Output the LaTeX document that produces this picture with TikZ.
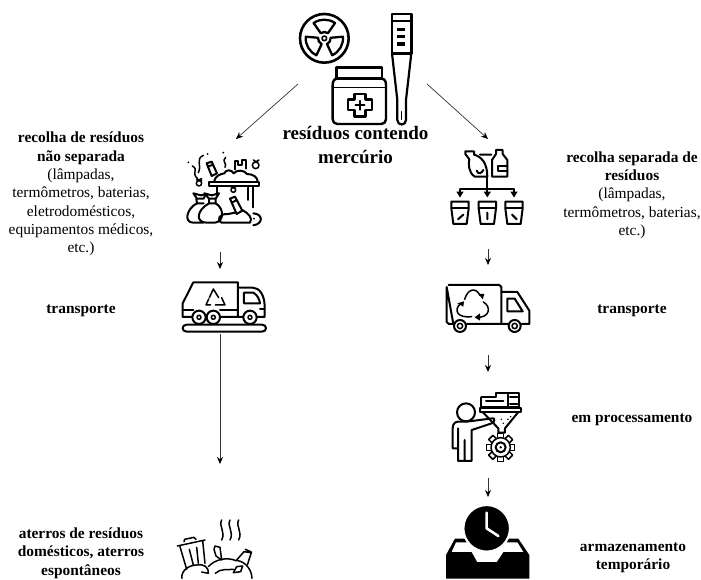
\documentclass[tikz,border=0pt]{standalone}
\usepackage{fontspec}
\setmainfont{Liberation Serif}
\usetikzlibrary{arrows.meta}
\tikzset{
  zm/.style 2 args={shift={(#1pt,-#2pt)},x=0.3333pt,y=-0.3333pt},
  ico/.style={draw=black,line width=2pt,line join=round,line cap=round,fill=none},
  thin ico/.style={draw=black,line width=1.5pt,line join=round,line cap=round,fill=none},
  bigarrow/.style={draw=black!80,line width=0.7pt,-{Stealth[length=7pt,width=6pt,black]}},
  lab/.style={align=center,font=\fontsize{15.4pt}{18.3pt}\selectfont,inner sep=0pt},
  blab/.style={align=center,font=\fontsize{15.4pt}{18.5pt}\selectfont\bfseries,inner sep=0pt},
  titlelab/.style={align=center,font=\fontsize{19pt}{23.5pt}\selectfont\bfseries,inner sep=0pt},
}
\begin{document}
\begin{tikzpicture}[x=1pt,y=-1pt]
\useasboundingbox (0,0) rectangle (701,580);
\fill[white] (0,0) rectangle (701,580);
% radiation symbol
\begin{scope}[zm={280}{0}]
  \draw[ico,line width=2.6pt] (133,115) circle (73);
  \begin{scope}[shift={(133,115)}]
    \foreach \a in {270,30,150}{
      \draw[ico,line width=2.3pt] (\a-35:56) arc (\a-35:\a+35:56) -- (\a+35:19) arc (\a+35:\a-35:19) -- cycle;
    }
    \draw[ico,line width=1.6pt] (0,0) circle (7);
  \end{scope}
  % thermometer
  \draw[ico,line width=2.4pt] (336,42) rectangle (394,160);
  \draw[ico,line width=1.8pt] (336,62) -- (394,62);
  \foreach \yy in {88,110,132}{\fill (352,\yy-5) rectangle (376,\yy+5);}
  \draw[ico,line width=2.2pt] (336,160) -- (352,300) -- (352,360) .. controls (352,378) and (378,378) .. (378,360) -- (378,300) -- (394,160);
  \draw[ico,line width=1.2pt] (365,335) -- (365,358);
  % jar
  \draw[ico,line width=2.4pt] (170,202) rectangle (306,236);
  \draw[ico,line width=2.4pt] (172,236) -- (304,236) .. controls (315,236) and (318,245) .. (318,255) -- (318,358) .. controls (318,366) and (312,372) .. (304,372) -- (172,372) .. controls (164,372) and (158,366) .. (158,358) -- (158,255) .. controls (158,245) and (162,236) .. (172,236) -- cycle;
  \draw[ico,line width=1.5pt] (158,262) -- (318,262);
  \draw[ico,line width=2.4pt] (224,282) -- (256,282) -- (256,298) -- (276,298) -- (276,330) -- (256,330) -- (256,350) -- (224,350) -- (224,330) -- (204,330) -- (204,298) -- (224,298) -- cycle;
  \draw[ico,line width=1.4pt] (240,302) -- (240,330) (226,315) -- (254,315);
\end{scope}
\node[titlelab] (title) at (355.5,145) {resíduos contendo\\mercúrio};
% left waste icon
\begin{scope}[zm={185}{150}]
  \fill (10,37) circle (3) (68,12) circle (3) (115,8) circle (3);
  \draw[thin ico] (22,48) .. controls (42,58) and (18,70) .. (38,86);
  \draw[thin ico] (55,16) .. controls (30,28) and (52,45) .. (40,68);
  \draw[thin ico] (122,22) .. controls (108,34) and (128,40) .. (120,52);
  \draw[thin ico] (42,100) circle (8) (35,88) -- (50,92) (50,86) -- (36,92);
  \draw[ico] (65,40) -- (80,35) -- (96,70) -- (80,78) -- cycle (68,50) -- (84,44);
  \draw[ico] (150,58) -- (150,32) -- (160,32) -- (160,46) -- (170,46) -- (170,30) -- (182,30) -- (182,56);
  \draw[thin ico] (212,46) circle (10) (205,30) -- (218,38) (222,30) -- (208,38);
  \draw[ico] (88,92) .. controls (92,78) and (105,72) .. (118,70) .. controls (122,58) and (140,58) .. (146,70) .. controls (155,58) and (178,60) .. (186,72) .. controls (205,72) and (218,82) .. (218,95);
  \draw[ico] (72,97) -- (222,97) -- (222,109) -- (72,109) -- cycle;
  \draw[thin ico] (145,120) circle (7) (136,110) -- (154,110);
  \draw[ico] (190,110) -- (190,150) (205,110) -- (205,172) (95,110) -- (95,135);
  % two bags
  \draw[ico] (25,130) -- (36,146) -- (56,146) -- (62,132) -- (48,136) -- (25,130);
  \draw[ico] (58,130) -- (72,146) -- (92,146) -- (102,130) -- (80,136) -- cycle;
  \draw[ico] (34,146) -- (36,160) -- (56,160) (72,146) -- (72,160) -- (92,160) -- (92,146);
  \draw[ico] (36,160) .. controls (5,175) and (-5,218) .. (25,218) -- (55,218);
  \draw[ico] (72,160) .. controls (35,180) and (30,218) .. (65,218) -- (90,218) .. controls (118,215) and (118,175) .. (92,160);
  % right pile
  \draw[ico] (135,146) -- (150,140) -- (172,182) -- (155,192) -- cycle (140,158) -- (156,150);
  \draw[ico] (110,218) .. controls (92,208) and (105,190) .. (130,192) -- (150,188);
  \draw[ico] (172,180) .. controls (190,190) and (205,205) .. (195,218) -- (110,218);
  \draw[ico] (205,190) .. controls (235,192) and (235,222) .. (205,226);
  \fill (207,206) circle (3);
\end{scope}
% truck left
\begin{scope}[zm={170}{145}]
  \draw[ico] (70,412) -- (204,412) -- (204,516) -- (38,516) -- (38,475) -- cycle;
  \draw[ico] (204,428) -- (248,428) .. controls (268,428) and (284,450) .. (284,485) -- (284,516) -- (204,516);
  \draw[ico] (222,443) -- (250,443) .. controls (262,450) and (268,462) .. (270,475) -- (222,475) -- cycle;
  \draw[ico] (270,492) -- (284,492);
  \draw[ico] (38,494) -- (70,494) (150,494) -- (204,494);
  \draw[thin ico] (118,458) -- (130,432) -- (146,458) (122,480) -- (108,480) -- (116,462) (136,480) -- (165,480) -- (155,458);
  \foreach \xx in {87,130,240}{\draw[ico,fill=white] (\xx,517) circle (20); \draw[thin ico] (\xx,517) circle (6);}
  \draw[ico] (50,539) -- (276,539) .. controls (292,539) and (292,560) .. (276,560) -- (50,560) .. controls (34,560) and (34,539) .. (50,539) -- cycle;
\end{scope}
% landfill
\begin{scope}[zm={170}{510}]
  \draw[thin ico] (155,30) .. controls (145,50) and (168,65) .. (155,90);
  \draw[thin ico] (180,30) .. controls (170,50) and (193,65) .. (180,90);
  \draw[thin ico] (206,30) .. controls (196,50) and (219,65) .. (206,90);
  \draw[thin ico] (22,108) -- (105,90) (30,110) -- (50,178) (98,92) -- (105,160);
  \draw[thin ico] (42,95) -- (44,88) -- (72,82) -- (78,88);
  \draw[thin ico] (58,118) -- (70,165) (80,112) -- (85,160);
  \draw[thin ico] (36,205) .. controls (32,180) and (60,165) .. (80,165) .. controls (100,160) and (118,172) .. (115,190) -- (95,186);
  \draw[thin ico] (115,170) .. controls (135,148) and (170,140) .. (198,152) .. controls (215,150) and (245,170) .. (246,205);
  \draw[thin ico] (135,108) -- (150,112) -- (155,150) -- (138,138) -- (132,118) -- cycle;
  \draw[thin ico] (200,150) -- (222,125) -- (244,128) -- (232,165) (226,118) -- (244,126);
  \draw[thin ico] (136,190) .. controls (150,175) and (175,180) .. (190,178) (200,170) -- (218,168) -- (212,185) -- (190,188) -- cycle;
\end{scope}
% separated waste icon
\begin{scope}[zm={430}{140}]
  \draw[ico] (106,34) -- (132,34) -- (132,44) .. controls (155,50) and (172,70) .. (172,110) -- (135,110) .. controls (115,100) and (115,70) .. (118,58) -- (106,42) -- cycle;
  \draw[ico] (140,92) .. controls (145,105) and (155,100) .. (160,90);
  \draw[ico] (150,44) -- (184,44) (186,110) -- (232,110) -- (232,60) -- (218,42) -- (218,30) -- (198,30) -- (198,42) -- (186,60) -- (186,110);
  \draw[ico] (204,78) -- (232,78) (204,92) -- (232,92) (204,78) -- (204,92);
  \draw[ico] (172,112) -- (172,160) (90,148) -- (252,148) (90,148) -- (90,168) (252,148) -- (252,168);
  \foreach \xx in {90,172,252}{
    \fill (\xx-11,155) -- (\xx+11,155) -- (\xx,172) -- cycle;
    \draw[ico] (\xx-26,185) -- (\xx+26,185) -- (\xx+26,205) -- (\xx+20,252) -- (\xx-20,252) -- (\xx-26,205) -- cycle;
    \draw[ico] (\xx-26,205) -- (\xx+26,205);
  }
  \draw[ico] (84,238) -- (100,224) (172,218) -- (172,238) (246,224) -- (260,238);
\end{scope}
% right truck
\begin{scope}[zm={430}{140}]
  \draw[ico] (56,435) -- (208,435) -- (214,441) -- (214,552) -- (110,552) (70,552) -- (56,552) -- (50,546) -- (50,441) -- cycle;
  \draw[ico] (214,456) -- (262,456) -- (298,512) -- (298,552) -- (275,552) (235,552) -- (214,552);
  \draw[ico] (232,476) -- (254,476) -- (278,514) -- (232,514) -- cycle;
  \foreach \xx in {90,254}{\draw[ico] (\xx,558) circle (18); \draw[thin ico] (\xx,558) circle (8);}
  \draw[thin ico] (104,478) .. controls (112,450) and (135,438) .. (150,466);
  \fill (163,462) -- (146,462) -- (158,478) -- cycle;
  \draw[thin ico] (160,486) .. controls (185,500) and (180,535) .. (138,532);
  \fill (150,520) -- (150,542) -- (134,532) -- cycle;
  \draw[thin ico] (125,530) .. controls (80,535) and (72,510) .. (90,492);
  \fill (82,490) -- (102,484) -- (100,500) -- cycle;
\end{scope}
% processing
\begin{scope}[zm={430}{380}]
  \draw[ico] (108,97) circle (27);
  \draw[ico] (188,115) -- (110,125) -- (85,125) .. controls (75,125) and (68,132) .. (68,145) -- (68,205) -- (84,205) -- (84,145) (84,205) -- (84,243) -- (104,243) -- (104,180) (104,243) -- (125,243) -- (125,150) -- (185,130) .. controls (195,128) and (195,112) .. (188,115);
  \draw[ico] (154,52) -- (198,52) -- (198,40) -- (268,40) -- (268,82) (154,52) -- (154,82) -- (268,82);
  \draw[ico] (235,44) -- (235,82);
  \draw[ico] (168,62) -- (220,62) (240,52) -- (262,52) (240,72) -- (262,72);
  \draw[ico] (150,84) -- (272,84) -- (272,96) -- (150,96) -- cycle;
  \draw[ico] (158,96) -- (205,145) -- (205,158) -- (225,158) -- (225,145) -- (265,96);
  \fill (220,130) circle (2.5) (234,118) circle (2.5) (214,118) circle (2.5) (242,110) circle (2.5);
  \foreach \a in {0,45,...,315}{
    \draw[thin ico,fill=white,rotate around={\a:(212,202)}] (203,160) rectangle (221,176);
  }
  \fill[white] (212,202) circle (30);
  \draw[thin ico] (212,202) circle (29);
  \draw[ico] (212,202) circle (15);
  \fill (212,202) circle (4);
\end{scope}
% clock and tray
\begin{scope}[zm={440}{500}]
  \fill (18,165) -- (45,116) -- (235,116) -- (268,165) -- (268,236) -- (18,236) -- cycle;
  \fill[white] (48,127) -- (232,127) -- (250,156) -- (190,156) -- (170,186) -- (112,186) -- (95,156) -- (35,156) -- cycle;
  \draw[white,line width=2.2pt,fill=black] (140,85) circle (70);
  \draw[white,line width=2.6pt,line cap=round,line join=round] (140,38) -- (140,85) -- (175,108);
\end{scope}
% labels
\node[lab] (l1) at (81,194) {\textbf{recolha de resíduos}\\\textbf{não separada}\\(lâmpadas,\\termômetros, baterias,\\eletrodomésticos,\\equipamentos médicos,\\etc.)};
\node[lab] (r1) at (632,195) {\textbf{recolha separada de}\\\textbf{resíduos}\\(lâmpadas,\\termômetros, baterias,\\etc.)};
\node[blab] (l2) at (81,311) {transporte};
\node[blab] (r2) at (632,311) {transporte};
\node[blab] (r3) at (632,420) {em processamento};
\node[blab] (l3) at (81,553) {aterros de resíduos\\domésticos, aterros\\espontâneos};
\node[blab] (r4) at (633,558) {armazenamento\\temporário};
% connectors
\coordinate (a1) at (298,84); \coordinate (a2) at (236,139);
\coordinate (b1) at (427,84); \coordinate (b2) at (488,139);
\coordinate (c1) at (220,252); \coordinate (c2) at (220,269);
\coordinate (d1) at (220,334); \coordinate (d2) at (220,464);
\coordinate (e1) at (488,249); \coordinate (e2) at (488,265);
\coordinate (f1) at (488,355); \coordinate (f2) at (488,372);
\coordinate (g1) at (488,478); \coordinate (g2) at (488,497);
\draw[bigarrow] (a1) -- (a2);
\draw[bigarrow] (b1) -- (b2);
\draw[bigarrow] (c1) -- (c2);
\draw[bigarrow] (d1) -- (d2);
\draw[bigarrow] (e1) -- (e2);
\draw[bigarrow] (f1) -- (f2);
\draw[bigarrow] (g1) -- (g2);
\end{tikzpicture}
\end{document}
